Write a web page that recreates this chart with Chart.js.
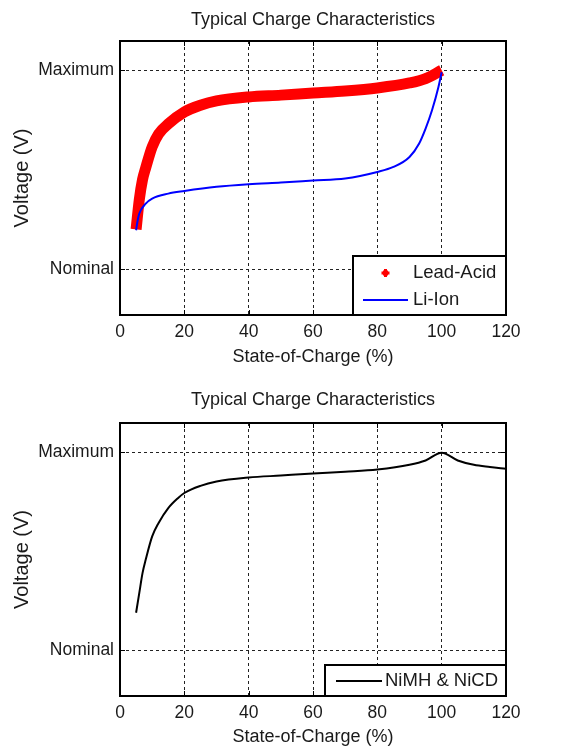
<!DOCTYPE html>
<html>
<head>
<meta charset="utf-8">
<script src="https://cdn.jsdelivr.net/npm/chart.js@4/dist/chart.umd.min.js"></script>
<style>
  body { margin: 0; background: #fff; }
  canvas { display: block; }
</style>
</head>
<body>
<canvas id="g_top" width="581" height="380"></canvas>
<canvas id="g_bottom" width="581" height="374"></canvas>
<script>
var titulo = 'Typical Charge Characteristics';
var xTitulo = 'State-of-Charge (%)';
var yTitulo = 'Voltage (V)';
var yTickValues = [0, 1];
var yTickLabels = ['Nominal', 'Maximum'];

var leadAcidSoc = [5, 6, 7, 8, 10, 12, 15, 20, 25, 30, 40, 50, 60, 70, 80, 90, 95, 100];
var leadAcidV = [0.20, 0.35, 0.45, 0.51, 0.615, 0.68, 0.73, 0.79, 0.824, 0.846, 0.866, 0.875, 0.886, 0.896, 0.911, 0.936, 0.958, 1.0];

var liIonSoc = [5, 5.5, 6, 8, 10, 15, 20, 30, 40, 50, 60, 70, 80, 85, 90, 93, 95, 97, 99, 100];
var liIonV = [0.196, 0.246, 0.28, 0.33, 0.355, 0.38, 0.393, 0.414, 0.427, 0.436, 0.446, 0.456, 0.489, 0.514, 0.564, 0.632, 0.707, 0.799, 0.916, 0.99];

var nimhSoc = [5, 6, 7, 8, 10, 12, 15, 18, 20, 25, 30, 40, 50, 60, 70, 80, 90, 95, 100, 105, 110, 115, 120];
var nimhV = [0.19, 0.29, 0.39, 0.458, 0.575, 0.643, 0.718, 0.768, 0.794, 0.83, 0.852, 0.872, 0.882, 0.892, 0.901, 0.912, 0.936, 0.958, 0.997, 0.958, 0.936, 0.925, 0.916];

var fuente = "'Liberation Sans', Arial, sans-serif";
var colorTexto = '#1a1a1a';

function puntos(xs, ys) {
    var out = [];
    for (let i = 0; i < xs.length; i++) {
        out.push({x: xs[i], y: ys[i]});
    }
    return out;
}

// caja estilo matlab, titulo y leyenda
var cajaPlugin = {
    id: 'caja',
    afterDraw: function (chart, args, opts) {
        var ctx = chart.ctx;
        var a = chart.chartArea;
        var sx = chart.scales.x;
        var sy = chart.scales.y;
        ctx.save();

        // ticks interiores
        ctx.strokeStyle = '#000';
        ctx.lineWidth = 1;
        ctx.beginPath();
        sx.ticks.forEach(function (t) {
            var px = Math.round(sx.getPixelForValue(t.value)) + 0.5;
            ctx.moveTo(px, a.bottom); ctx.lineTo(px, a.bottom - 5);
            ctx.moveTo(px, a.top); ctx.lineTo(px, a.top + 5);
        });
        sy.ticks.forEach(function (t) {
            var py = Math.round(sy.getPixelForValue(t.value)) + 0.5;
            ctx.moveTo(a.left, py); ctx.lineTo(a.left + 5, py);
            ctx.moveTo(a.right, py); ctx.lineTo(a.right - 5, py);
        });
        ctx.stroke();

        ctx.lineWidth = 2;
        ctx.strokeRect(a.left, a.top, a.right - a.left, a.bottom - a.top);

        // titulo
        ctx.fillStyle = colorTexto;
        ctx.font = '18px ' + fuente;
        ctx.textAlign = 'center';
        ctx.textBaseline = 'middle';
        ctx.fillText(titulo, (a.left + a.right) / 2, opts.tituloY);

        // leyenda
        var bx = a.right - opts.ancho;
        var by = a.bottom - opts.alto;
        ctx.fillStyle = '#fff';
        ctx.fillRect(bx, by, opts.ancho, opts.alto);
        ctx.strokeStyle = '#000';
        ctx.lineWidth = 2;
        ctx.strokeRect(bx, by, opts.ancho, opts.alto);

        var datasets = chart.data.datasets;
        for (let i = 0; i < datasets.length; i++) {
            var ds = datasets[i];
            var cy = by + opts.filas[i];
            if (ds.marcador) {
                var mx = bx + (opts.lineaIni + opts.lineaFin) / 2;
                ctx.fillStyle = ds.borderColor;
                ctx.fillRect(mx - 4, cy - 1.5, 8, 3);
                ctx.fillRect(mx - 1.5, cy - 4, 3, 8);
                ctx.fillRect(mx - 2.5, cy - 2.5, 5, 5);
            } else {
                ctx.strokeStyle = ds.borderColor;
                ctx.lineWidth = 2;
                ctx.beginPath();
                ctx.moveTo(bx + opts.lineaIni, cy);
                ctx.lineTo(bx + opts.lineaFin, cy);
                ctx.stroke();
            }
            ctx.fillStyle = colorTexto;
            ctx.font = '18.5px ' + fuente;
            ctx.textAlign = 'left';
            ctx.fillText(ds.label, bx + opts.textoX, cy);
        }
        ctx.restore();
    }
};

function grafica(id, datasets, arriba, alturaX, tickPad, xTitlePad, leyenda) {
    var ctx = document.getElementById(id).getContext('2d');
    return new Chart(ctx, {
        type: 'line',
        data: { datasets: datasets },
        options: {
            responsive: false,
            animation: false,
            devicePixelRatio: 1,
            layout: { padding: { top: arriba, left: 0, right: 75, bottom: 0 } },
            elements: { point: { radius: 0 } },
            plugins: {
                legend: { display: false },
                tooltip: { enabled: false },
                caja: leyenda
            },
            scales: {
                x: {
                    type: 'linear',
                    min: 0,
                    max: 120,
                    afterFit: function (scale) { scale.height = alturaX; },
                    ticks: { stepSize: 20, padding: tickPad, color: colorTexto, font: { family: fuente, size: 17.5 } },
                    grid: { color: '#222', lineWidth: 1, drawTicks: false },
                    border: { display: false, dash: [3, 3] },
                    title: { display: true, text: xTitulo, color: colorTexto, padding: { top: 0, bottom: xTitlePad }, font: { family: fuente, size: 18 } }
                },
                y: {
                    type: 'linear',
                    min: -0.23,
                    max: 1.147,
                    afterFit: function (scale) { scale.width = 120; },
                    afterBuildTicks: function (scale) {
                        scale.ticks = yTickValues.map(function (v) { return {value: v}; });
                    },
                    ticks: {
                        padding: 6,
                        color: colorTexto,
                        font: { family: fuente, size: 17.5 },
                        callback: function (v) { return yTickLabels[yTickValues.indexOf(v)]; }
                    },
                    grid: { color: '#222', lineWidth: 1, drawTicks: false },
                    border: { display: false, dash: [3, 3] },
                    title: { display: true, text: yTitulo, color: colorTexto, padding: { top: 10, bottom: 0 }, font: { family: fuente, size: 20 } }
                }
            }
        },
        plugins: [cajaPlugin]
    });
}

grafica('g_top', [
    {
        label: 'Lead-Acid',
        data: puntos(leadAcidSoc, leadAcidV),
        borderColor: '#ff0000',
        borderWidth: 11,
        borderJoinStyle: 'round',
        cubicInterpolationMode: 'monotone',
        marcador: true,
        order: 1
    },
    {
        label: 'Li-Ion',
        data: puntos(liIonSoc, liIonV),
        borderColor: '#0000ff',
        borderWidth: 2,
        cubicInterpolationMode: 'monotone',
        order: 0
    }
], 41, 65, 7, 12, { tituloY: 20, ancho: 153, alto: 59, filas: [17, 44], lineaIni: 10, lineaFin: 55, textoX: 60 });

grafica('g_bottom', [
    {
        label: 'NiMH & NiCD',
        data: puntos(nimhSoc, nimhV),
        borderColor: '#000000',
        borderWidth: 2,
        cubicInterpolationMode: 'monotone'
    }
], 43, 58, 7, 6, { tituloY: 20, ancho: 181, alto: 31, filas: [16], lineaIni: 11, lineaFin: 57, textoX: 60 });
</script>
</body>
</html>
